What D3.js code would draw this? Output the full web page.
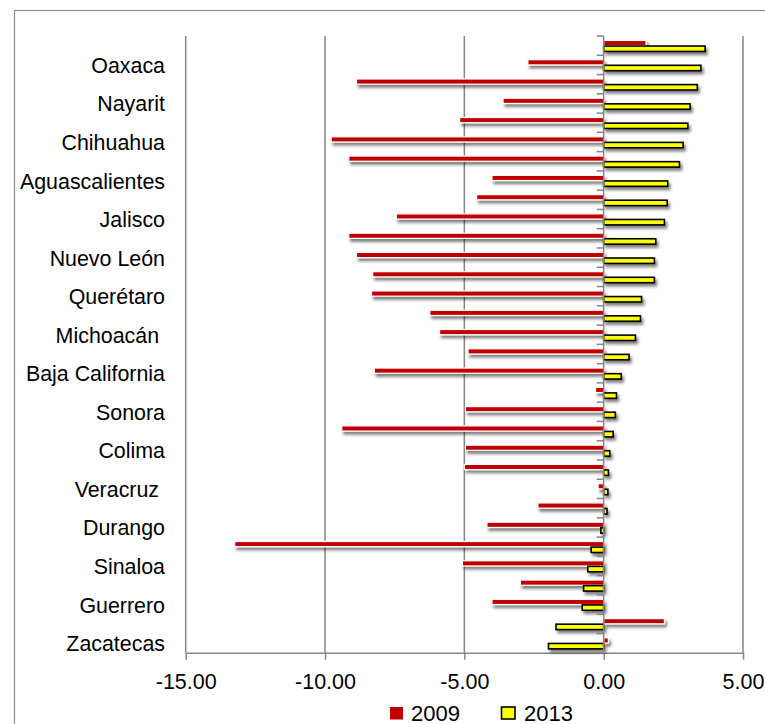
<!DOCTYPE html>
<html>
<head>
<meta charset="utf-8">
<script src="https://cdn.jsdelivr.net/npm/d3@7"></script>
<style>
  html, body { margin: 0; padding: 0; background: #ffffff; }
  svg { display: block; }
  text { font-family: "Liberation Sans", Arial, sans-serif; fill: #000; white-space: pre; }
</style>
</head>
<body>
<svg id="chart" width="765" height="724"></svg>
<script>
// ---- data (top-to-bottom order as drawn) ----
const categories = [
  "Baja California Sur", "Oaxaca", "Guanajuato", "Nayarit", "Yucatán", "Chihuahua",
  "San Luis Potosí", "Aguascalientes", "Distrito Federal", "Jalisco", "Puebla",
  "Nuevo León", "México", "Querétaro", "Hidalgo", "Michoacán ", "Quintana Roo",
  "Baja California", "Chiapas", "Sonora", "Tamaulipas", "Colima", "Morelos",
  "Veracruz ", "Tlaxcala", "Durango", "Coahuila", "Sinaloa", "Campeche",
  "Guerrero", "Tabasco", "Zacatecas"
];
const values2009 = [
  1.52, -2.72, -8.87, -3.61, -5.17, -9.78, -9.15, -4.01, -4.56, -7.44, -9.15,
  -8.87, -8.29, -8.33, -6.24, -5.89, -4.87, -8.23, -0.29, -4.96, -9.40, -4.96,
  -5.00, -0.20, -2.36, -4.19, -13.24, -5.07, -2.99, -4.01, 2.18, 0.17
];
const values2013 = [
  3.64, 3.49, 3.36, 3.10, 3.02, 2.85, 2.72, 2.30, 2.28, 2.18, 1.87,
  1.82, 1.82, 1.36, 1.32, 1.14, 0.91, 0.63, 0.46, 0.42, 0.34, 0.22,
  0.17, 0.15, 0.12, -0.10, -0.45, -0.57, -0.72, -0.77, -1.71, -1.98
];
const seriesNames = ["2009", "2013"];
const xTicks = [-15, -10, -5, 0, 5];
// only every other category carries a visible label
const labeledCategories = categories.filter((d, i) => i % 2 === 1);

// ---- layout ----
const plot = { left: 185.7, right: 743, top: 36, bottom: 652.7 };
const gridColor = "#868686";
const red = "#C00000";
const yellow = "#FFFF00";

const svg = d3.select("#chart");

const defs = svg.append("defs");
const f = defs.append("filter").attr("id", "shadow")
  .attr("x", "-10%").attr("y", "-100%").attr("width", "130%").attr("height", "400%");
f.append("feGaussianBlur").attr("in", "SourceAlpha").attr("stdDeviation", 1.5).attr("result", "blur");
f.append("feOffset").attr("in", "blur").attr("dx", 2).attr("dy", 3).attr("result", "off");
f.append("feComponentTransfer").attr("in", "off").attr("result", "sh")
  .append("feFuncA").attr("type", "linear").attr("slope", 0.5);
const m = f.append("feMerge");
m.append("feMergeNode").attr("in", "sh");
m.append("feMergeNode").attr("in", "SourceGraphic");

// outer chart border
svg.append("rect")
  .attr("x", 14.5).attr("y", 10.5).attr("width", 820).attr("height", 800)
  .attr("fill", "none").attr("stroke", "#8c8c8c").attr("stroke-width", 1.2);

const x = d3.scaleLinear().domain([-15, 5]).range([plot.left, plot.right]);
const y = d3.scaleBand().domain(categories).range([plot.top, plot.bottom]).padding(0);
const bw = y.bandwidth();

// vertical gridlines
svg.append("g").selectAll("line")
  .data(xTicks.filter(d => d !== 0))
  .join("line")
  .attr("x1", d => x(d)).attr("x2", d => x(d))
  .attr("y1", plot.top).attr("y2", plot.bottom)
  .attr("stroke", gridColor).attr("stroke-width", 1.5);

// x axis (bottom)
const xAxis = d3.axisBottom(x)
  .tickValues(xTicks)
  .tickFormat(d => d.toFixed(2))
  .tickSize(7).tickSizeOuter(0).tickPadding(14);
const gx = svg.append("g").attr("transform", `translate(0,${plot.bottom})`).call(xAxis);
gx.select(".domain").attr("stroke", gridColor).attr("stroke-width", 1.5);
gx.selectAll(".tick line").attr("stroke", gridColor).attr("stroke-width", 1.5);
gx.selectAll(".tick text")
  .attr("font-size", 21.5).attr("font-family", '"Liberation Sans", Arial, sans-serif')
  .attr("fill", "#000");

// bars
const barsG = svg.append("g").attr("filter", "url(#shadow)");
const red09 = categories.map((c, i) => ({ c, v: values2009[i] }));
const yel13 = categories.map((c, i) => ({ c, v: values2013[i] }));

barsG.append("g").selectAll("rect")
  .data(red09)
  .join("rect")
  .attr("x", d => Math.min(x(0), x(d.v)))
  .attr("width", d => Math.abs(x(d.v) - x(0)))
  .attr("y", d => y(d.c) + bw / 2 - 5.2)
  .attr("height", 5.2)
  .attr("fill", red)
  .attr("stroke", "#ffffff").attr("stroke-width", 1.2);

barsG.append("g").selectAll("rect")
  .data(yel13)
  .join("rect")
  .attr("x", d => Math.min(x(0), x(d.v)))
  .attr("width", d => Math.abs(x(d.v) - x(0)))
  .attr("y", d => y(d.c) + bw / 2 + 0.4)
  .attr("height", 5.4)
  .attr("fill", yellow)
  .attr("stroke", "#000000").attr("stroke-width", 1.6);

// category axis at zero: line + tick marks between categories
const yAxisG = svg.append("g");
const bounds = categories.map(c => y(c)).concat([plot.bottom]);
yAxisG.selectAll("line.tk")
  .data(bounds)
  .join("line").attr("class", "tk")
  .attr("x1", x(0) - 7).attr("x2", x(0))
  .attr("y1", d => d).attr("y2", d => d)
  .attr("stroke", gridColor).attr("stroke-width", 1.5);
yAxisG.append("line")
  .attr("x1", x(0)).attr("x2", x(0))
  .attr("y1", plot.top).attr("y2", plot.bottom)
  .attr("stroke", gridColor).attr("stroke-width", 1.5);

// category labels (every other one)
svg.append("g").selectAll("text")
  .data(labeledCategories)
  .join("text")
  .attr("x", 165)
  .attr("y", d => y(d) + bw / 2 + 1)
  .attr("text-anchor", "end")
  .attr("dominant-baseline", "central")
  .attr("font-size", 21.4)
  .text(d => d);

// legend
const legend = [
  { name: seriesNames[0], fill: red, stroke: "none", sx: 390, tx: 411 },
  { name: seriesNames[1], fill: yellow, stroke: "#000", sx: 501.5, tx: 524 }
];
const lg = svg.append("g");
lg.selectAll("rect")
  .data(legend)
  .join("rect")
  .attr("x", d => d.sx).attr("y", 707)
  .attr("width", d => d.stroke === "none" ? 13 : 13.5)
  .attr("height", d => d.stroke === "none" ? 12.5 : 12)
  .attr("fill", d => d.fill)
  .attr("stroke", d => d.stroke).attr("stroke-width", 1.6);
lg.selectAll("text")
  .data(legend)
  .join("text")
  .attr("x", d => d.tx).attr("y", 720.5)
  .attr("font-size", 22)
  .text(d => d.name);
</script>
</body>
</html>
